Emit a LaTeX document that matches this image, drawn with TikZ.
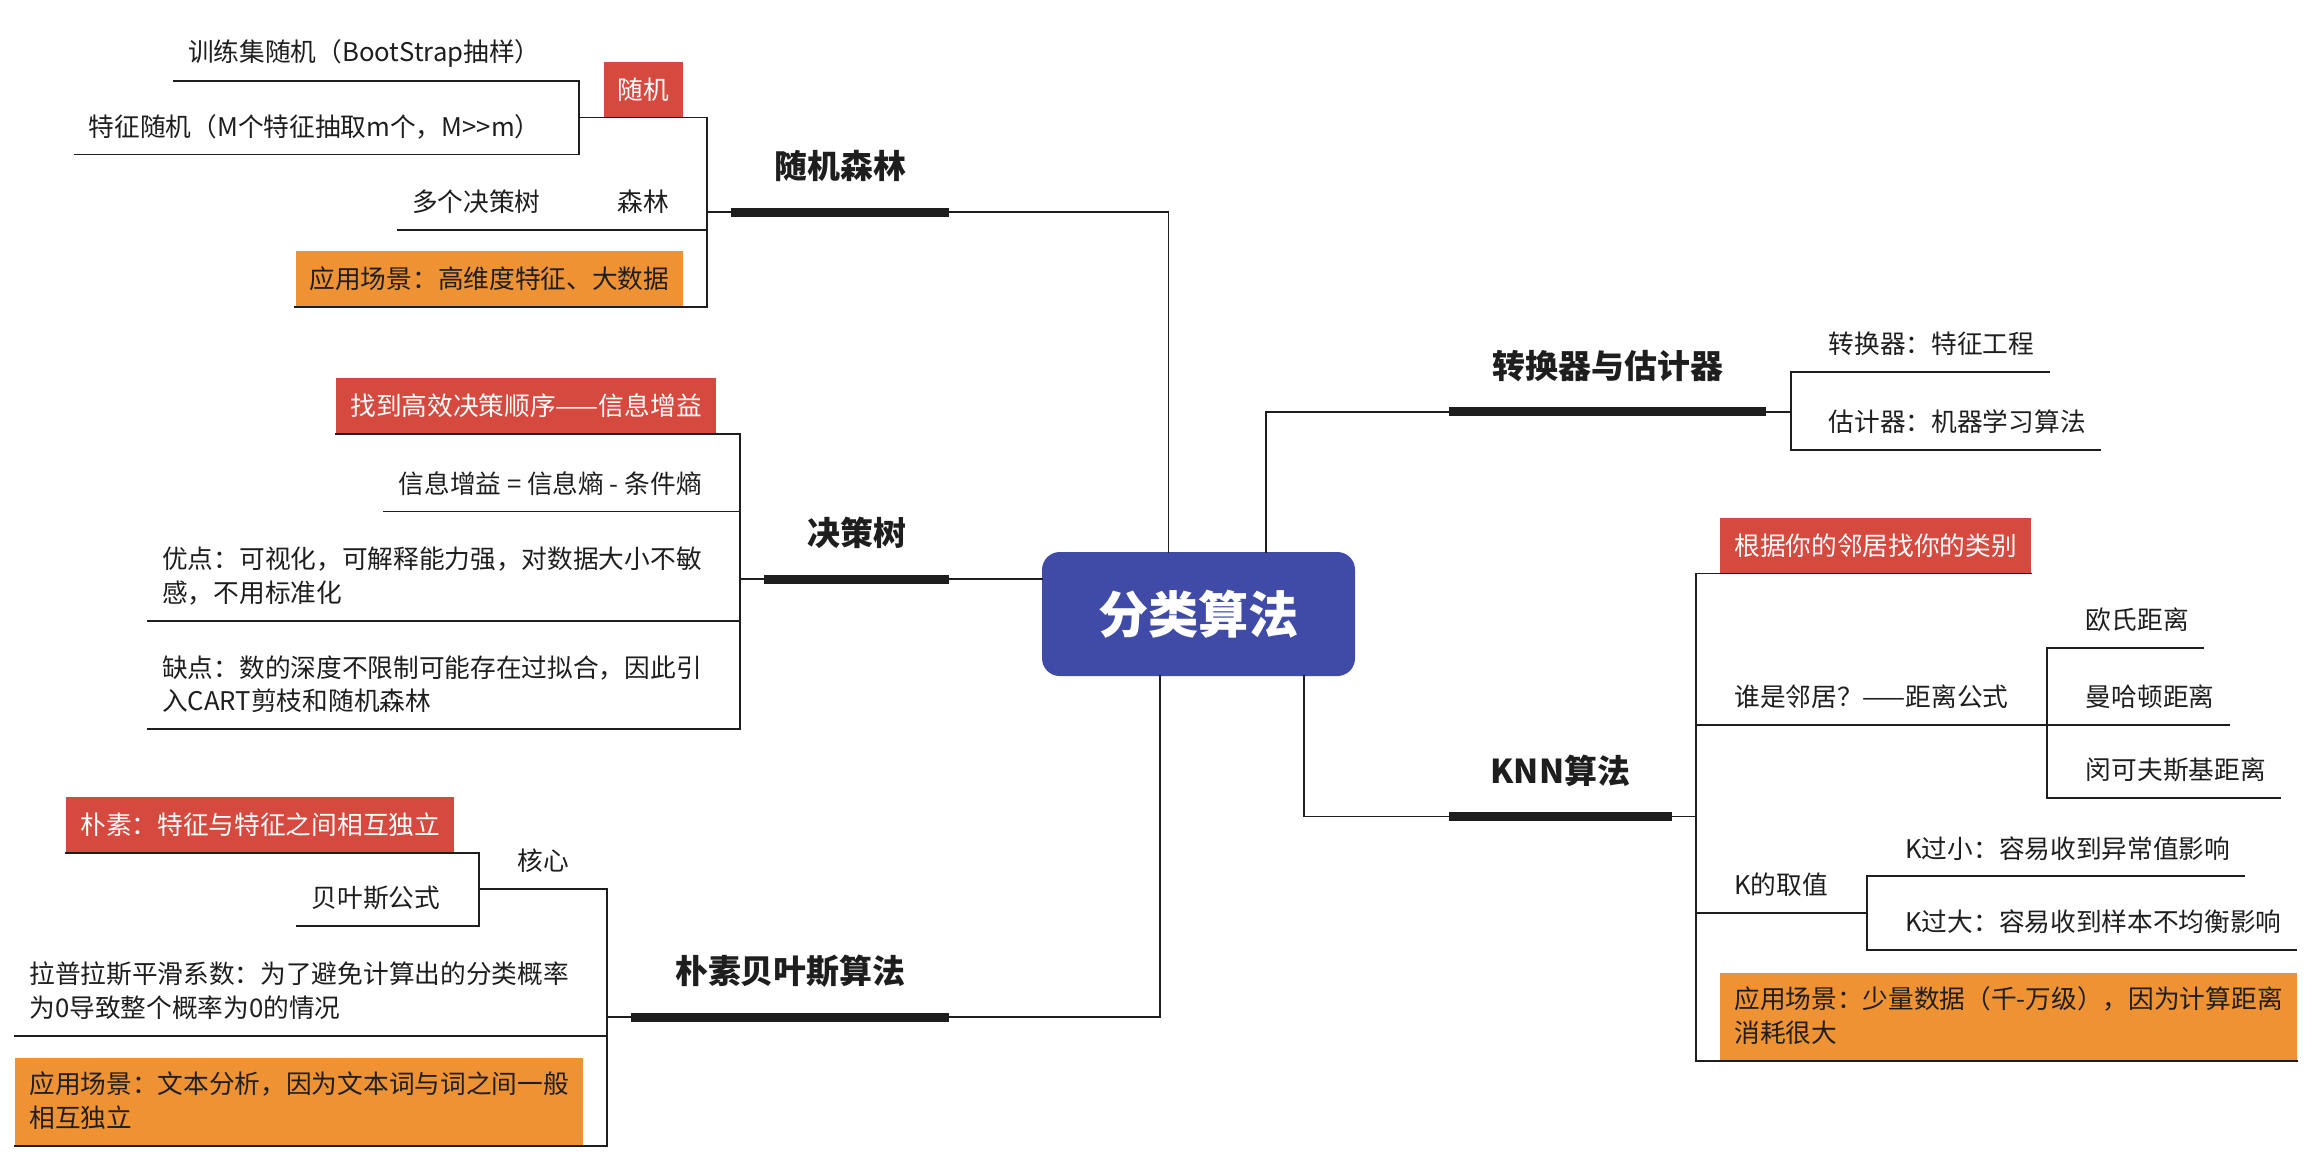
\documentclass[tikz,border=0pt]{standalone}
\usepackage{fontspec}
\setmainfont{Noto Sans CJK SC}
\usetikzlibrary{positioning}
\definecolor{rootblue}{HTML}{3F4BA6}
\definecolor{tagred}{HTML}{D5493F}
\definecolor{tagorange}{HTML}{EE9234}
\definecolor{ink}{HTML}{1E1E1E}
\newcommand{\tstrut}{\rule[-3pt]{0pt}{19.2pt}}
\tikzset{
x=1pt, y=-1pt, % picture coordinates, y grows downwards
root/.style={fill=rootblue, rounded corners=12pt, minimum width=212pt, minimum height=84pt, text=white, font=\fontsize{34}{40}\selectfont\bfseries}, % the central topic
branch/.style={minimum height=62pt, inner sep=0pt, text=ink, font=\fontsize{22.3}{26}\selectfont\bfseries}, % main topic, sits on its bar
item/.style={inner xsep=9.5pt, inner ysep=9.25pt, align=left, text=ink, font=\fontsize{17.4}{22.8}\selectfont, execute at begin node=\tstrut}, % sub topic
redtag/.style={item, fill=tagred, text=white},
apptag/.style={item, fill=tagorange},
bar/.style={draw=ink, line width=6.2pt}, % thick line under a main topic
link/.style={draw=ink, line width=1.2pt, line cap=rect},
}

\begin{document}
\begin{tikzpicture}
    \useasboundingbox (0,0) rectangle (1568.7,783);
    \node[root] (root) at (811.8,415.9) {分类算法};

    % main topics
    \node[branch, anchor=south east, minimum width=147.3pt] (rf) at (643,143.8) {随机森林};
    \node[branch, anchor=south east, minimum width=125pt] (dt) at (643,392.3) {决策树};
    \node[branch, anchor=south east, minimum width=215pt] (nb) at (643,689) {朴素贝叶斯算法};
    \node[branch, anchor=south west, minimum width=214.5pt] (te) at (981.5,279) {转换器与估计器};
    \node[branch, anchor=south west, minimum width=150.3pt] (knn) at (981.5,553) {KNN算法};
    \foreach \b in {rf,dt,nb,te,knn}
        \draw[bar] (\b.south west) -- (\b.south east);

    \draw[link] (rf.south east) -| ([xshift=-20.3pt]root.north);
    \draw[link] (dt.south east) -- (dt.south east -| root.west);
    \draw[link] (nb.south east) -| ([xshift=-26pt]root.south);
    \draw[link] (te.south west) -| ([xshift=45.6pt]root.north);
    \draw[link] (knn.south west) -| ([xshift=71.2pt]root.south);

    % random forest
    \coordinate (rfv) at ([xshift=-16.5pt]rf.south west);
    \node[redtag, anchor=south east] (rnd) at (463,79.6) {随机};
    \coordinate (rndv) at ([xshift=-16.5pt]rnd.south west);
    \node[item, anchor=south east] (rnd1) at ([xshift=-16.5pt]rndv |- 0,55) {训练集随机（BootStrap抽样）};
    \node[item, anchor=south east] (rnd2) at ([xshift=-16.5pt]rndv |- 0,104.7) {特征随机（M个特征抽取m个，M>{}>m）};
    \node[item, anchor=south east] (fst) at (463,156) {森林};
    \node[item, left=33pt of fst.south west, anchor=south east] (fst1) {多个决策树};
    \node[apptag, anchor=south east] (rfapp) at (463,208) {应用场景：高维度特征、大数据};
    \draw[link] (rnd.south -| rndv) -- (rnd.south -| rfv);
    \draw[link] (rnd1.south west) -- (rnd1.south -| rndv);
    \draw[link] (rnd2.south west) -- (rnd2.south -| rndv);
    \draw[link] (rnd1.south -| rndv) -- (rnd2.south -| rndv);
    \draw[link] (fst1.south west) -- (fst.south -| rfv);
    \draw[link] (rfapp.south west) -- (rfapp.south -| rfv);
    \draw[link] (rnd.south -| rfv) -- (rfapp.south -| rfv);
    \draw[link] (rf.south west) -- (rfv);

    % decision tree
    \coordinate (dtv) at ([xshift=-16.5pt]dt.south west);
    \node[redtag, anchor=south east] (dt1) at (485,294) {找到高效决策顺序——信息增益};
    \node[item, anchor=south east] (dt2) at (485,346.5) {信息增益 = 信息熵 - 条件熵};
    \node[item, anchor=south east] (dt3) at (485,420.5) {优点：可视化，可解释能力强，对数据大小不敏\\感，不用标准化\tstrut};
    \node[item, anchor=south east] (dt4) at (485,494) {缺点：数的深度不限制可能存在过拟合，因此引\\入CART剪枝和随机森林\tstrut};
    \foreach \n in {dt1,dt2,dt3,dt4}
        \draw[link] (\n.south west) -- (\n.south -| dtv);
    \draw[link] (dt1.south -| dtv) -- (dt4.south -| dtv);
    \draw[link] (dt.south west) -- (dtv);

    % naive bayes
    \coordinate (nbv) at ([xshift=-16.5pt]nb.south west);
    \node[item, anchor=south east] (core) at (395,602.3) {核心};
    \coordinate (corev) at ([xshift=-16.5pt]core.south west);
    \node[redtag, anchor=south east] (core1) at ([xshift=-16.5pt]corev |- 0,577.7) {朴素：特征与特征之间相互独立};
    \node[item, anchor=south east] (core2) at ([xshift=-16.5pt]corev |- 0,627) {贝叶斯公式};
    \node[item, anchor=south east] (lap) at (395,701.7) {拉普拉斯平滑系数：为了避免计算出的分类概率\\为0导致整个概率为0的情况\tstrut};
    \node[apptag, anchor=south east] (nbapp) at (395,776) {应用场景：文本分析，因为文本词与词之间一般\\相互独立\tstrut};
    \draw[link] (core.south -| corev) -- (core.south -| nbv);
    \foreach \n in {core1,core2}
        \draw[link] (\n.south west) -- (\n.south -| corev);
    \draw[link] (core1.south -| corev) -- (core2.south -| corev);
    \foreach \n in {lap,nbapp}
        \draw[link] (\n.south west) -- (\n.south -| nbv);
    \draw[link] (core.south -| nbv) -- (nbapp.south -| nbv);
    \draw[link] (nb.south west) -- (nbv);

    % transformer and estimator
    \coordinate (tev) at ([xshift=16.5pt]te.south east);
    \node[item, anchor=south west] (te1) at (1229,252) {转换器：特征工程};
    \node[item, anchor=south west] (te2) at (1229,305) {估计器：机器学习算法};
    \foreach \n in {te1,te2}
        \draw[link] (\n.south -| tev) -- (\n.south east);
    \draw[link] (te1.south -| tev) -- (te2.south -| tev);
    \draw[link] (te.south east) -- (tev);

    % knn
    \coordinate (knnv) at ([xshift=16.5pt]knn.south east);
    \node[redtag, anchor=south west] (kr) at (1165,388.5) {根据你的邻居找你的类别};
    \node[item, anchor=south west] (who) at (1165,491) {谁是邻居？——距离公式};
    \coordinate (whov) at ([xshift=16.5pt]who.south east);
    \foreach \n/\name/\y in {d1/欧氏距离/439, d2/曼哈顿距离/491, d3/闵可夫斯基距离/540.6}
        \node[item, anchor=south west] (\n) at ([xshift=16.5pt]whov |- 0,\y) {\name};
    \node[item, anchor=south west] (kv) at (1165,618.5) {K的取值};
    \coordinate (kvv) at ([xshift=16.5pt]kv.south east);
    \node[item, anchor=south west] (k1) at ([xshift=16.5pt]kvv |- 0,593.6) {K过小：容易收到异常值影响};
    \node[item, anchor=south west] (k2) at ([xshift=16.5pt]kvv |- 0,643.4) {K过大：容易收到样本不均衡影响};
    \node[apptag, anchor=south west] (knnapp) at (1165,718.6) {应用场景：少量数据（千-万级），因为计算距离\\消耗很大\tstrut};
    \foreach \n in {kr,knnapp}
        \draw[link] (\n.south -| knnv) -- (\n.south east);
    \draw[link] (who.south -| knnv) -- (who.south -| whov);
    \draw[link] (kv.south -| knnv) -- (kv.south -| kvv);
    \foreach \n in {d1,d2,d3}
        \draw[link] (\n.south -| whov) -- (\n.south east);
    \draw[link] (d1.south -| whov) -- (d3.south -| whov);
    \foreach \n in {k1,k2}
        \draw[link] (\n.south -| kvv) -- (\n.south east);
    \draw[link] (k1.south -| kvv) -- (k2.south -| kvv);
    \draw[link] (kr.south -| knnv) -- (knnapp.south -| knnv);
    \draw[link] (knn.south east) -- (knnv);
\end{tikzpicture}
\end{document}
